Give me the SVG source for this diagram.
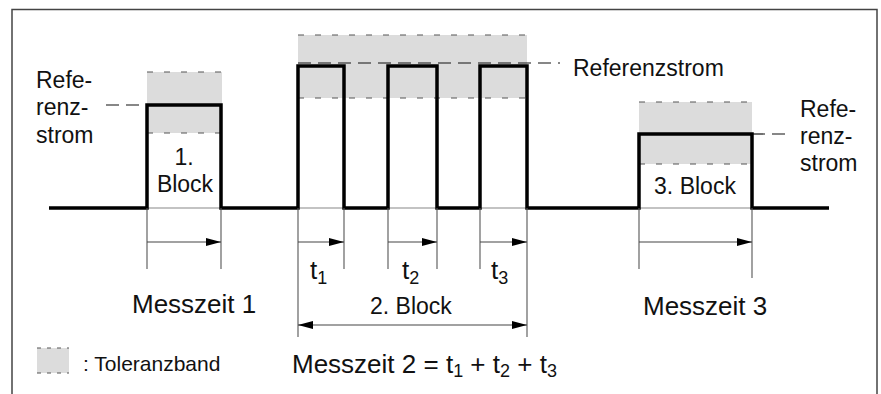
<svg xmlns="http://www.w3.org/2000/svg" width="881" height="394" viewBox="0 0 881 394">
<style>
  text { font-family: "Liberation Sans", Arial, sans-serif; font-size: 23px; fill: #111; }
  .big { font-size: 26px; }
  .small { font-size: 21px; }
  .band { fill: #dcdcdc; stroke: none; }
  .bedge { stroke: #555; stroke-width: 1; stroke-dasharray: 6 11; fill: none; }
  .ref { stroke: #111; stroke-width: 1.2; stroke-dasharray: 13 7; fill: none; }
  .sig { stroke: #000; stroke-width: 3.5; fill: none; stroke-linejoin: miter; stroke-linecap: butt; }
  .base { stroke: #888; stroke-width: 1.2; fill: none; }
  .ext { stroke: #555; stroke-width: 1.1; fill: none; }
  .dim { stroke: #444; stroke-width: 1.1; fill: none; }
  .frame { stroke: #444; stroke-width: 1.5; fill: none; }
</style>
<defs>
  <marker id="ah" markerUnits="userSpaceOnUse" markerWidth="16" markerHeight="9" refX="15" refY="4" orient="auto-start-reverse">
    <path d="M0,0 L15,4 L0,8 z" fill="#000"/>
  </marker>
</defs>

<path class="frame" d="M12,394 V9.5 H877 V394"/>

<g id="block1">
  <rect class="band" x="147" y="72" width="75" height="61"/>
  <line class="bedge" x1="147" y1="72" x2="222" y2="72"/>
  <line class="bedge" x1="147" y1="133" x2="222" y2="133"/>
  <line class="base" x1="147" y1="208" x2="221" y2="208"/>
  <line class="ref" x1="106" y1="105" x2="147" y2="105"/>
  <text x="36" y="88">Refe-</text>
  <text x="36" y="115">renz-</text>
  <text x="36" y="143">strom</text>
  <text x="184" y="165" text-anchor="middle">1.</text>
  <text x="185" y="192" text-anchor="middle">Block</text>
</g>

<g id="block2">
  <rect class="band" x="298" y="35" width="229" height="63"/>
  <line class="bedge" x1="298" y1="35" x2="527" y2="35"/>
  <line class="bedge" x1="298" y1="98" x2="527" y2="98"/>
  <line class="base" x1="298" y1="208" x2="344" y2="208"/>
  <line class="base" x1="388" y1="208" x2="437" y2="208"/>
  <line class="base" x1="480" y1="208" x2="527" y2="208"/>
  <text x="573" y="76">Referenzstrom</text>
</g>

<g id="block3">
  <rect class="band" x="639" y="102" width="113" height="62"/>
  <line class="bedge" x1="639" y1="102" x2="752" y2="102"/>
  <line class="bedge" x1="639" y1="164" x2="752" y2="164"/>
  <line class="base" x1="639" y1="208" x2="752" y2="208"/>
  <line class="ref" x1="752" y1="134" x2="790" y2="134"/>
  <text x="800" y="117">Refe-</text>
  <text x="800" y="144">renz-</text>
  <text x="800" y="171">strom</text>
  <text x="695" y="194" text-anchor="middle">3. Block</text>
</g>

<g id="signal">
  <path class="sig" d="M49,208 H147 V105 H221 V208 H298 V66 H344 V208 H388 V66 H437 V208 H480 V66 H527 V208 H639 V134 H752 V208 H829"/>
  <line class="ref" x1="298" y1="63" x2="560" y2="63"/>
</g>

<g id="connectors">
  <line class="ext" x1="147" y1="208" x2="147" y2="269"/>
  <line class="ext" x1="221" y1="208" x2="221" y2="269"/>
  <line class="ext" x1="298" y1="208" x2="298" y2="337"/>
  <line class="ext" x1="344" y1="208" x2="344" y2="269"/>
  <line class="ext" x1="388" y1="208" x2="388" y2="269"/>
  <line class="ext" x1="437" y1="208" x2="437" y2="269"/>
  <line class="ext" x1="480" y1="208" x2="480" y2="269"/>
  <line class="ext" x1="527" y1="208" x2="527" y2="337"/>
  <line class="ext" x1="639" y1="208" x2="639" y2="269"/>
  <line class="ext" x1="752" y1="208" x2="752" y2="278"/>
  <line class="dim" x1="147" y1="242" x2="221" y2="242" marker-end="url(#ah)"/>
  <line class="dim" x1="298" y1="242" x2="344" y2="242" marker-end="url(#ah)"/>
  <line class="dim" x1="388" y1="242" x2="437" y2="242" marker-end="url(#ah)"/>
  <line class="dim" x1="480" y1="242" x2="527" y2="242" marker-end="url(#ah)"/>
  <line class="dim" x1="639" y1="242" x2="752" y2="242" marker-end="url(#ah)"/>
  <line class="dim" x1="298" y1="325" x2="527" y2="325" marker-start="url(#ah)" marker-end="url(#ah)"/>
</g>

<g id="labels">
  <text class="big" x="310" y="279">t<tspan font-size="18" dy="5">1</tspan></text>
  <text class="big" x="402" y="279">t<tspan font-size="18" dy="5">2</tspan></text>
  <text class="big" x="491" y="279">t<tspan font-size="18" dy="5">3</tspan></text>
  <text class="big" x="132" y="313">Messzeit 1</text>
  <text x="370" y="314">2. Block</text>
  <text class="big" x="643" y="315">Messzeit 3</text>
  <text class="big" x="292" y="373">Messzeit 2 = t<tspan font-size="18" dy="4">1</tspan><tspan dy="-4"> + t</tspan><tspan font-size="18" dy="4">2</tspan><tspan dy="-4"> + t</tspan><tspan font-size="18" dy="4">3</tspan></text>
</g>

<g id="legend">
  <rect class="band" x="37" y="348" width="32" height="25"/>
  <line class="bedge" x1="37" y1="348" x2="69" y2="348" style="stroke-dasharray:4 6"/>
  <line class="bedge" x1="37" y1="373" x2="69" y2="373" style="stroke-dasharray:4 6"/>
  <text class="small" x="83" y="371">: Toleranzband</text>
</g>
</svg>
